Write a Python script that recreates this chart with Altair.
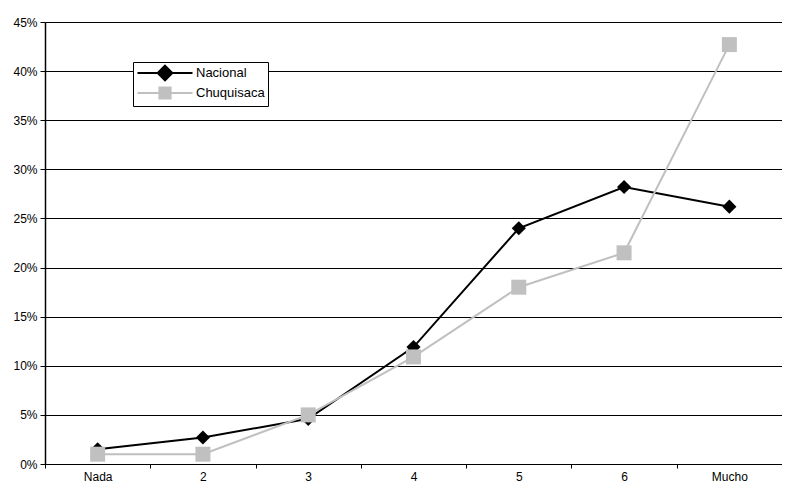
import altair as alt
import pandas as pd

categorias = ["Nada", "2", "3", "4", "5", "6", "Mucho"]
nacional = [1.5, 2.7, 4.6, 11.9, 24.0, 28.2, 26.2]
chuquisaca = [1.0, 1.0, 5.0, 10.9, 18.0, 21.5, 42.7]
series = ["Nacional", "Chuquisaca"]
colores = ["#000000", "#c0c0c0"]

rows = []
for i, c in enumerate(categorias):
    rows.append({"cat": c, "serie": "Nacional", "serieL": "Nacional", "v": nacional[i] / 100, "ord": 0})
for i, c in enumerate(categorias):
    rows.append({"cat": c, "serie": "Chuquisaca", "serieL": "Chuquisaca", "v": chuquisaca[i] / 100, "ord": 1})
df = pd.DataFrame(rows)

FONT = "Liberation Sans"

x = alt.X("cat:N", sort=categorias, title=None, bandPosition=0.5,
          scale=alt.Scale(type="band", paddingInner=0, paddingOuter=0),
          axis=alt.Axis(labelAngle=0, tickBand="extent", domainColor="#000000",
                        tickColor="#000000", tickSize=4, labelPadding=3,
                        labelFont=FONT, labelFontSize=12, labelColor="#000000",
                        grid=False))
y = alt.Y("v:Q", title=None,
          scale=alt.Scale(domain=[0, 0.45], nice=False),
          axis=alt.Axis(values=[i * 0.05 for i in range(10)], format=".0%",
                        domainColor="#000000", domainWidth=1.5, tickColor="#000000",
                        tickSize=5, labelPadding=3, labelFont=FONT, labelFontSize=12,
                        labelColor="#000000", grid=True, gridColor="#000000",
                        gridWidth=1))

base = alt.Chart(df)

lines = base.mark_line(strokeWidth=2).encode(
    x=x, y=y,
    color=alt.Color("serie:N", scale=alt.Scale(domain=series, range=colores), legend=None),
    order=alt.Order("ord:Q"),
    detail="serie:N",
)

points = base.mark_point(filled=True, opacity=1).encode(
    x=x, y=y,
    fill=alt.Fill("serie:N", scale=alt.Scale(domain=series, range=colores), legend=None),
    shape=alt.Shape("serie:N", scale=alt.Scale(domain=series, range=["diamond", "square"]), legend=None),
    size=alt.Size("serie:N", scale=alt.Scale(domain=series, range=[200, 225]), legend=None),
    order=alt.Order("ord:Q"),
)

path_nac = "M-3.93,0L3.93,0M0,-1.05L1.05,0L0,1.05L-1.05,0Z"
path_chu = "M-3.93,0L3.93,0M-0.8,-0.8L0.8,-0.8L0.8,0.8L-0.8,0.8Z"

legend_layer = base.mark_point(filled=True, opacity=0, size=196, strokeWidth=2).encode(
    x=x, y=y,
    shape=alt.Shape("serieL:N", title=None,
                    scale=alt.Scale(domain=series, range=[path_nac, path_chu]),
                    legend=alt.Legend(orient="none", legendX=88, legendY=40,
                                      strokeColor="#000000", fillColor="#ffffff",
                                      padding=3, symbolOpacity=1, symbolSize=196,
                                      symbolStrokeWidth=2, symbolOffset=21,
                                      labelOffset=23, labelFont=FONT, labelFontSize=13,
                                      labelColor="#000000", rowPadding=-2,
                                      labelExpr="datum.label + '\u00a0\u00a0\u00a0\u00a0'",
                                      cornerRadius=0)),
    stroke=alt.Stroke("serieL:N", title=None,
                      scale=alt.Scale(domain=series, range=colores)),
    fill=alt.Fill("serieL:N", title=None,
                  scale=alt.Scale(domain=series, range=colores)),
)

chart = alt.layer(lines, points, legend_layer).resolve_scale(
    shape="independent", fill="independent", color="independent",
    stroke="independent", size="independent"
).properties(
    width=737, height=442,
    autosize=alt.AutoSizeParams(type="none"),
    padding={"left": 37, "top": 14, "right": 0, "bottom": 20},
).configure_view(stroke="#808080", strokeWidth=1).configure(background="#ffffff")

chart.save("out.html", embed_options={"renderer": "svg", "actions": False})
